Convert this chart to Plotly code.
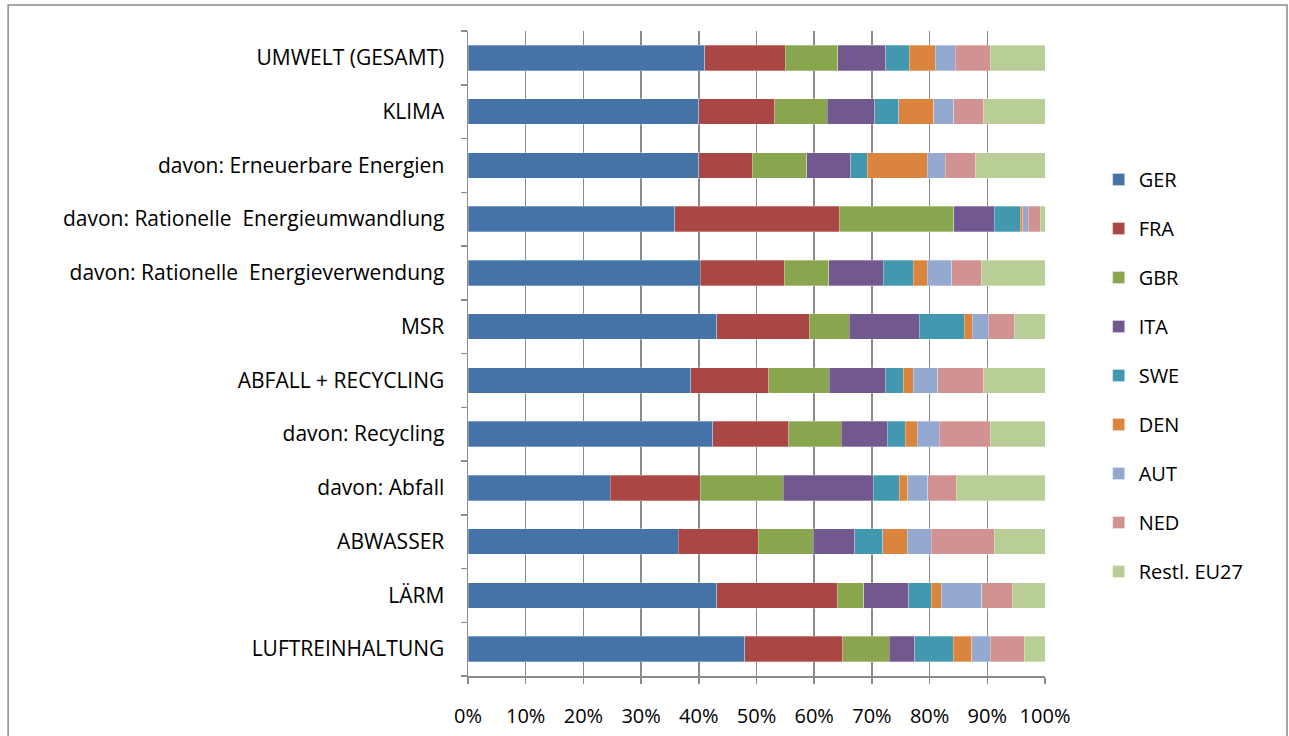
import plotly.graph_objects as go

categories = [
    "UMWELT (GESAMT)",
    "KLIMA",
    "davon: Erneuerbare Energien",
    "davon: Rationelle  Energieumwandlung",
    "davon: Rationelle  Energieverwendung",
    "MSR",
    "ABFALL + RECYCLING",
    "davon: Recycling",
    "davon: Abfall",
    "ABWASSER",
    "LÄRM",
    "LUFTREINHALTUNG",
]

series_names = ["GER", "FRA", "GBR", "ITA", "SWE", "DEN", "AUT", "NED", "Restl. EU27"]

GER = [41.0, 40.0, 40.0, 35.8, 40.3, 43.1, 38.6, 42.4, 24.7, 36.4, 43.1, 48.0]
FRA = [13.9, 13.2, 9.3, 28.5, 14.6, 16.0, 13.6, 13.2, 15.6, 13.9, 20.9, 17.0]
GBR = [9.1, 9.1, 9.4, 19.9, 7.7, 7.0, 10.5, 9.1, 14.4, 9.5, 4.6, 8.1]
ITA = [8.3, 8.3, 7.6, 7.0, 9.4, 12.1, 9.7, 8.0, 15.6, 7.2, 7.8, 4.4]
SWE = [4.1, 4.1, 2.9, 4.5, 5.2, 7.8, 3.1, 3.1, 4.5, 4.9, 3.9, 6.7]
DEN = [4.5, 6.1, 10.4, 0.4, 2.5, 1.4, 1.7, 2.1, 1.5, 4.2, 1.7, 3.2]
AUT = [3.5, 3.5, 3.1, 1.0, 4.2, 2.8, 4.3, 3.8, 3.5, 4.2, 7.0, 3.2]
NED = [6.0, 5.2, 5.3, 2.1, 5.2, 4.5, 8.0, 8.8, 4.9, 10.9, 5.3, 5.9]
REST = [9.5, 10.6, 12.0, 0.8, 11.0, 5.3, 10.6, 9.5, 15.4, 8.8, 5.7, 3.6]

values = [GER, FRA, GBR, ITA, SWE, DEN, AUT, NED, REST]
colors = ["#4572A7", "#AA4643", "#89A54E", "#71588F", "#4198AF",
          "#DB843D", "#93A9CF", "#D19392", "#B9CD96"]

tick_vals = [0, 10, 20, 30, 40, 50, 60, 70, 80, 90, 100]
tick_text = ["0%", "10%", "20%", "30%", "40%", "50%", "60%", "70%", "80%", "90%", "100%"]

FONT = "'Open Sans', Lato, sans-serif"

totals = [sum(v[i] for v in values) for i in range(len(categories))]

fig = go.Figure()
for name, vals, col in zip(series_names, values, colors):
    norm = [100.0 * x / t for x, t in zip(vals, totals)]
    fig.add_trace(go.Bar(
        y=categories, x=norm, name=name, orientation="h",
        marker=dict(color=col, line=dict(width=0.6, color="rgba(255,255,255,0.5)")),
        legendgroup=name,
    ))

fig.update_layout(
    barmode="stack",
    bargap=0.53,
    width=1289, height=736,
    margin=dict(l=468, r=244, t=31, b=60, autoexpand=False),
    paper_bgcolor="white", plot_bgcolor="white",
    font=dict(family=FONT, size=20, color="#000000"),
    showlegend=True,
    legend=dict(
        x=1.093, xanchor="left", y=0.80, yanchor="top",
        font=dict(family=FONT, size=20, color="#000000"),
        tracegroupgap=20, itemwidth=30,
        bgcolor="rgba(0,0,0,0)",
    ),
    xaxis=dict(
        range=[0, 100], tickvals=tick_vals, ticktext=tick_text,
        showgrid=True, gridcolor="#8a8a8a", gridwidth=1.5,
        showline=True, linecolor="#8a8a8a", linewidth=1.5,
        ticks="outside", ticklen=6, tickcolor="#8a8a8a", tickwidth=1.5,
        ticklabelstandoff=15, zeroline=False, fixedrange=True,
        automargin=False,
    ),
    yaxis=dict(
        categoryorder="array", categoryarray=categories[::-1],
        showline=True, linecolor="#8a8a8a", linewidth=1.5,
        ticks="outside", ticklen=6, tickcolor="#8a8a8a", tickwidth=1.5,
        tickson="boundaries", ticklabelstandoff=18,
        tickfont=dict(family=FONT, size=21, color="#000000"),
        showgrid=False, fixedrange=True, automargin=False,
    ),
    shapes=[dict(
        type="rect", xref="paper", yref="paper",
        x0=-0.797, x1=1.4194, y0=-0.095, y1=1.0405,
        line=dict(color="#8a8a8a", width=1.5), fillcolor="rgba(0,0,0,0)",
        layer="below",
    )],
)

fig.write_html(
    "out.html",
    config={"displayModeBar": False, "staticPlot": True},
    post_script="document.body.style.margin='0';document.body.style.overflow='hidden';",
)
